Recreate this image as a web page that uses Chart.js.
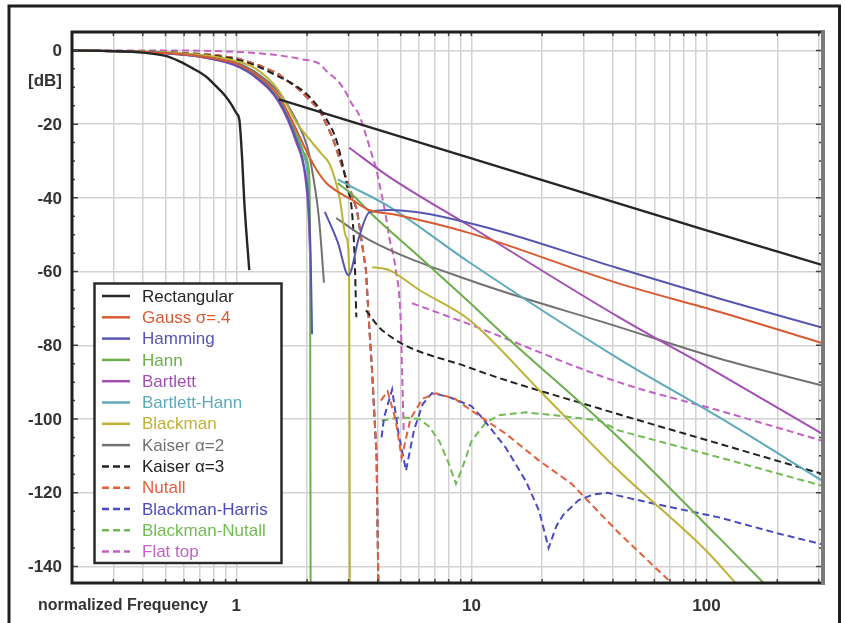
<!DOCTYPE html>
<html>
<head>
<meta charset="utf-8">
<script src="https://cdn.jsdelivr.net/npm/chart.js@4.4.1/dist/chart.umd.min.js"></script>
<style>
html,body{margin:0;padding:0;background:#fff;}
canvas{display:block;}
</style>
</head>
<body>
<canvas id="c" width="845" height="623"></canvas>
<script>
// ---------- tick values / labels ----------
const xGridValues = [0.2,0.3,0.4,0.5,0.6,0.7,0.8,0.9,1,2,3,4,5,6,7,8,9,10,20,30,40,50,60,70,80,90,100,200,300];
const xLabelValues = [1, 10, 100];
const xLabelTexts = ['1', '10', '100'];
const yTickValues = [0,-20,-40,-60,-80,-100,-120,-140];
const yTickTexts = ['0','-20','-40','-60','-80','-100','-120','-140'];
const xAxisTitle = 'normalized Frequency';
const yAxisUnit = '[dB]';

// ---------- series (frequency, dB); null = gap ----------
const rectF  = [0.2,0.3,0.4,0.5,0.57,0.65,0.74,0.82,0.9,0.96,1.0,1.03,1.06,1.08,1.135,1.3,1.52,10,100,310];
const rectDB = [0,-0.2,-0.6,-1.5,-2.9,-4.8,-7,-9.7,-12.4,-15,-17,-18.8,-30,-40.5,-59.6,null,-13.3,-29.3,-48.8,-58.2];

const gaussF  = [0.2,0.35,0.5,0.7,0.9,1.0,1.2,1.52,1.8,2.04,2.2,2.41,2.74,3.1,3.67,4.77,9.75,42.2,113,310];
const gaussDB = [0,-0.3,-0.7,-1.6,-2.8,-3.6,-6.3,-12.5,-21.5,-28.8,-32.5,-35.9,-38.6,-40.5,-43.3,-44.6,-49.5,-63.2,-70.9,-79.4];

const hammingF  = [0.2,0.35,0.5,0.7,0.9,1.0,1.2,1.52,1.8,1.95,2.03,2.07,2.1,2.2,2.38,2.7,3.0,3.33,3.67,4.47,9.75,42.2,113,310];
const hammingDB = [0,-0.3,-0.8,-1.7,-3.1,-4.1,-7,-13.8,-24.2,-32,-42,-55,-77,null,-43.8,-52,-61,-50.6,-44,-43.3,-46.8,-59.1,-67.3,-75.2];

const hannF  = [0.2,0.35,0.5,0.7,0.9,1.0,1.2,1.52,1.8,1.95,2.04,2.06,2.07,2.4,2.7,3.1,3.78,6,9.75,13.1,42.2,113,175];
const hannDB = [0,-0.3,-0.7,-1.6,-2.9,-3.8,-6.6,-13.3,-23,-28,-33,-60,-145,null,-36,-39,-44.5,-56,-68.2,-75.9,-105,-132.2,-144.5];

const bartlettF  = [0.2,0.35,0.5,0.7,0.9,1.0,1.2,1.52,1.8,1.95,2.03,2.07,2.5,3.02,4.47,9.75,42.2,113,310];
const bartlettDB = [0,-0.3,-0.8,-1.7,-3.2,-4.2,-7.2,-14.2,-25,-33,-45,-60,null,-26.4,-34.3,-47.5,-72.3,-87.7,-104];

const bartHannF  = [0.2,0.35,0.5,0.7,0.9,1.0,1.2,1.52,1.8,1.95,2.03,2.06,2.4,2.7,3.1,4.47,9.75,42.2,113,310];
const bartHannDB = [0,-0.3,-0.7,-1.6,-2.9,-3.8,-6.5,-13,-22.5,-29,-38,-55,null,-35,-37,-42.4,-57.4,-83.6,-99.5,-116.7];

const blackmanF  = [0.2,0.35,0.5,0.7,0.9,1.0,1.2,1.52,1.8,2.04,2.3,2.5,2.75,2.93,3.02,3.04,3.5,3.78,4.47,6,9.75,20,42.2,100,133];
const blackmanDB = [0,-0.2,-0.5,-1.2,-2.2,-2.9,-4.8,-11,-19.5,-24,-28,-31,-40,-50.6,-59.6,-145,null,-58.8,-59.6,-65,-73,-93,-114,-135.8,-144.5];

const kaiser2F  = [0.2,0.35,0.5,0.7,0.9,1.0,1.2,1.52,1.8,2.0,2.1,2.25,2.36,2.5,2.66,3.67,9.75,42.2,113,310];
const kaiser2DB = [0,-0.2,-0.6,-1.4,-2.6,-3.3,-5.8,-11.5,-19,-26,-32.4,-46,-63,null,-45.5,-51.4,-62.3,-75,-83.6,-90.9];

const kaiser3F  = [0.2,0.5,0.8,1.0,1.25,1.5,1.73,2.04,2.41,2.66,2.82,2.96,3.1,3.18,3.24,3.4,3.56,4.17,9.75,34.8,113,310];
const kaiser3DB = [0,-0.5,-1.5,-2.5,-4.5,-7,-9,-12.5,-18.5,-24.2,-30.5,-36.9,-43.3,-55,-72.4,null,-70.5,-75.9,-86,-97.1,-106.7,-114.9];

const nutallF  = [0.2,0.5,0.8,1.0,1.25,1.5,1.85,2.25,2.56,2.82,3.08,3.26,3.56,3.66,3.78,3.95,4.02,4.06,4.12,4.4,4.75,5.05,5.5,6.2,7.06,8.5,10,14,19.4,26.7,42.2,71];
const nutallDB = [0,-0.4,-1.2,-2.1,-4,-6.3,-10.6,-16,-23.4,-31.5,-38.6,-43.3,-59.6,-73,-87,-110,-145,null,-95,-92.5,-100,-110.5,-100,-94.5,-93,-94.5,-97.7,-104,-111.3,-117.6,-130.8,-144.5];

const bHarrisF  = [0.2,0.5,0.8,1.0,1.25,1.5,1.85,2.25,2.56,2.82,3.08,3.26,3.56,3.66,3.78,3.95,4.02,4.08,4.15,4.25,4.6,4.9,5.27,5.7,6.2,6.8,8.0,10,11.1,14,17,19.4,21.3,23,24.6,28.6,33,38,42.2,60,113,200,310];
const bHarrisDB = [0,-0.4,-1.2,-2.1,-4,-6.3,-10.6,-16,-23.4,-31.5,-38.6,-43.3,-59.6,-73,-87,-110,-145,null,-105,-99.6,-92,-104,-114,-103,-96,-93,-94,-96.5,-99.6,-107.8,-116.7,-124.9,-135,-129,-126,-122,-120.5,-120,-120.8,-123,-126.7,-131,-134];

const bNutallF  = [0.2,0.5,0.8,1.0,1.25,1.5,1.85,2.25,2.56,2.82,3.08,3.26,3.56,3.66,3.78,3.95,4.02,4.08,4.15,5.0,6.0,6.6,7.3,8.0,8.6,9.3,10,11.5,13.1,17,22.8,34.8,42.2,113,310];
const bNutallDB = [0,-0.4,-1.2,-2.1,-4,-6.3,-10.6,-16,-23.4,-31.5,-38.6,-43.3,-59.6,-73,-87,-110,-145,null,-100.5,-99.5,-100,-102,-106,-112,-117.6,-112,-106,-101,-99,-98.2,-99,-100.4,-103.1,-110.4,-118.1];

const flatTopF  = [0.2,0.5,1.0,1.5,1.9,2.25,2.41,2.74,2.93,3.1,3.33,3.5,3.74,3.93,4.1,4.3,4.47,4.77,5.0,5.07,5.15,5.4,5.59,9.7,42.2,113,310];
const flatTopDB = [0,0,-0.4,-1.3,-2.4,-3.6,-5.5,-8.7,-11.5,-14.5,-17.5,-21.5,-27.5,-32,-37.5,-44,-50.6,-59.6,-73,-86.8,-103,null,-68.6,-74.2,-90,-97.7,-105.9];

const seriesLabels = ['Rectangular','Gauss σ=.4','Hamming','Hann','Bartlett','Bartlett-Hann','Blackman','Kaiser α=2','Kaiser α=3','Nutall','Blackman-Harris','Blackman-Nutall','Flat top'];
const seriesF  = [rectF,gaussF,hammingF,hannF,bartlettF,bartHannF,blackmanF,kaiser2F,kaiser3F,nutallF,bHarrisF,bNutallF,flatTopF];
const seriesDB = [rectDB,gaussDB,hammingDB,hannDB,bartlettDB,bartHannDB,blackmanDB,kaiser2DB,kaiser3DB,nutallDB,bHarrisDB,bNutallDB,flatTopDB];
const seriesColors = ['#262626','#d95a32','#5656b2','#6cae4c','#a24fb4','#5eaabb','#bdb236','#727272','#222222','#e2603c','#4a4ac0','#72bb52','#c462c4'];
const seriesDashed = [false,false,false,false,false,false,false,false,true,true,true,true,true];
const seriesSmooth = [true,true,true,true,true,true,true,true,true,false,false,false,true];

const FONT = '"Liberation Sans", Arial, sans-serif';

const datasets = seriesLabels.map((lab, i) => ({
  label: lab,
  data: seriesF[i].map((f, k) => ({x: f, y: seriesDB[i][k]})),
  borderColor: seriesColors[i],
  backgroundColor: seriesColors[i],
  borderWidth: i === 0 ? 2.4 : 2,
  borderDash: seriesDashed[i] ? [7, 4] : [],
  pointRadius: 0,
  tension: 0,
  cubicInterpolationMode: seriesSmooth[i] ? 'monotone' : 'default',
  spanGaps: false,
  fill: false
}));

const decor = {
  id: 'decor',
  beforeDraw(chart) {
    const ctx = chart.ctx;
    ctx.save();
    ctx.fillStyle = '#ffffff';
    ctx.fillRect(0, 0, chart.width, chart.height);
    ctx.restore();
  },
  afterDraw(chart) {
    const ctx = chart.ctx;
    const a = chart.chartArea;
    const xs = chart.scales.x, ys = chart.scales.y;
    ctx.save();
    // tick marks
    ctx.strokeStyle = '#444';
    ctx.lineWidth = 1.5;
    xGridValues.forEach(v => {
      const px = xs.getPixelForValue(v);
      ctx.beginPath();
      ctx.moveTo(px, a.bottom); ctx.lineTo(px, a.bottom - 4);
      ctx.moveTo(px, a.top); ctx.lineTo(px, a.top + 4);
      ctx.stroke();
    });
    for (let v = 0; v >= -140; v -= 5) {
      const py = ys.getPixelForValue(v);
      const len = (v % 20 === 0) ? 6 : 3;
      ctx.beginPath();
      ctx.moveTo(a.left, py); ctx.lineTo(a.left + len, py);
      ctx.moveTo(a.right, py); ctx.lineTo(a.right - len, py);
      ctx.stroke();
    }
    // plot frame
    ctx.lineCap = 'square';
    ctx.strokeStyle = '#1e1e1e';
    ctx.lineWidth = 3;
    ctx.beginPath();
    ctx.moveTo(a.left, a.bottom); ctx.lineTo(a.left, a.top); ctx.lineTo(a.right, a.top);
    ctx.moveTo(a.left, a.bottom); ctx.lineTo(a.right, a.bottom);
    ctx.stroke();
    ctx.strokeStyle = '#7a7a7a';
    ctx.lineWidth = 4;
    ctx.beginPath();
    ctx.moveTo(a.right + 1, a.top); ctx.lineTo(a.right + 1, a.bottom);
    ctx.stroke();

    // y labels
    ctx.fillStyle = '#333';
    ctx.font = 'bold 17px ' + FONT;
    ctx.textAlign = 'right';
    ctx.textBaseline = 'middle';
    yTickValues.forEach((v, i) => {
      ctx.fillText(yTickTexts[i], 62, ys.getPixelForValue(v) + 1);
    });
    ctx.fillText(yAxisUnit, 62, 81);
    // x labels
    ctx.textAlign = 'center';
    xLabelValues.forEach((v, i) => {
      ctx.fillText(xLabelTexts[i], xs.getPixelForValue(v), 606);
    });
    ctx.textAlign = 'left';
    ctx.font = 'bold 16px ' + FONT;
    ctx.fillText(xAxisTitle, 38, 606);

    // legend
    const lx = 94.5, ly = 283.5, lw = 187, lh = 279.5;
    ctx.fillStyle = '#ffffff';
    ctx.fillRect(lx, ly, lw, lh);
    ctx.strokeStyle = '#2a2a2a';
    ctx.lineWidth = 2.5;
    ctx.strokeRect(lx, ly, lw, lh);
    ctx.font = '17px ' + FONT;
    ctx.textAlign = 'left';
    ctx.textBaseline = 'middle';
    chart.data.datasets.forEach((ds, i) => {
      const y = 296 + i * 21.3;
      ctx.strokeStyle = ds.borderColor;
      ctx.lineWidth = 2.5;
      ctx.lineCap = 'butt';
      ctx.setLineDash(ds.borderDash || []);
      ctx.beginPath();
      ctx.moveTo(102, y); ctx.lineTo(130, y);
      ctx.stroke();
      ctx.setLineDash([]);
      ctx.fillStyle = ds.borderColor;
      ctx.fillText(ds.label, 142, y + 1);
    });

    // outer frame
    ctx.strokeStyle = '#1e1e1e';
    ctx.lineWidth = 3;
    ctx.strokeRect(9, 6, 830.5, 660);
    ctx.restore();
  }
};

new Chart(document.getElementById('c'), {
  type: 'line',
  data: { datasets },
  options: {
    responsive: false,
    animation: false,
    events: [],
    layout: { padding: { left: 72, right: 23, top: 32, bottom: 40 } },
    plugins: { legend: { display: false }, tooltip: { enabled: false } },
    scales: {
      x: {
        type: 'logarithmic',
        min: 0.2, max: 310,
        border: { display: false },
        grid: { color: '#d2d2d2', lineWidth: 1.5, drawTicks: false },
        ticks: { display: false },
        afterBuildTicks: s => { s.ticks = xGridValues.map(v => ({ value: v })); }
      },
      y: {
        type: 'linear',
        min: -144.5, max: 5,
        border: { display: false },
        grid: { color: '#d2d2d2', lineWidth: 1.5, drawTicks: false },
        ticks: { display: false },
        afterBuildTicks: s => { s.ticks = yTickValues.map(v => ({ value: v })); }
      }
    }
  },
  plugins: [decor]
});
</script>
</body>
</html>
